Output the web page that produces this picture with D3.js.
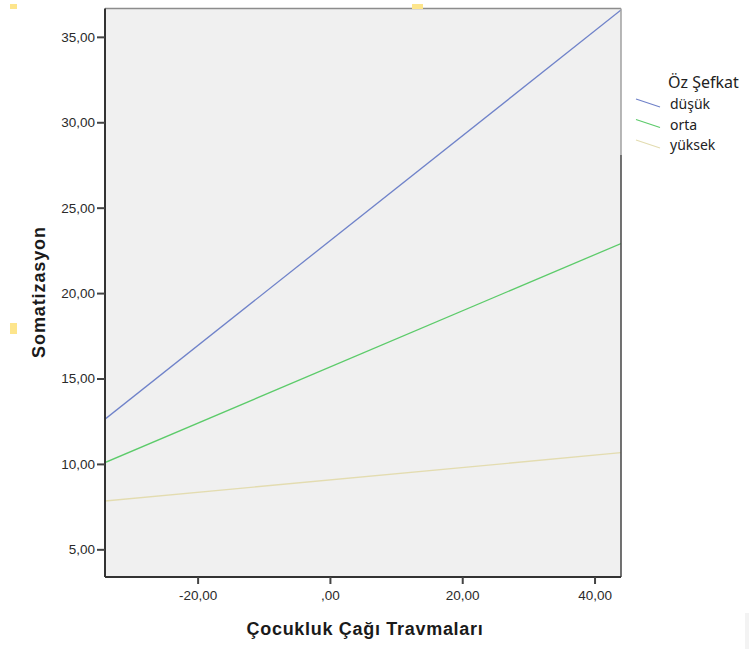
<!DOCTYPE html>
<html>
<head>
<meta charset="utf-8">
<script src="https://cdn.jsdelivr.net/npm/d3@7"></script>
<style>
  html, body { margin: 0; padding: 0; background: #ffffff; }
  svg { display: block; }
</style>
</head>
<body>
<svg id="chart" width="749" height="649"></svg>
<script>
// ---- data ----
const xEnds = [-34, 44];                       // range of Çocukluk Çağı Travmaları shown
const seriesNames = ["düşük", "orta", "yüksek"];
const dusukValues = [12.62, 36.57];
const ortaValues = [10.08, 22.9];
const yuksekValues = [7.83, 10.66];
const seriesColors = ["#6f82c9", "#5ccb6a", "#e3dcb0"];
const xTickValues = [-20, 0, 20, 40];
const xTickLabels = ["-20,00", ",00", "20,00", "40,00"];
const yTickValues = [5, 10, 15, 20, 25, 30, 35];
const yTickLabels = ["5,00", "10,00", "15,00", "20,00", "25,00", "30,00", "35,00"];
const xDomain = [-34, 44];
const yDomain = [3.38, 36.66];

const seriesValues = [dusukValues, ortaValues, yuksekValues];

const svg = d3.select("#chart");
const L = 105, R = 621, T = 8.5, B = 577;

const x = d3.scaleLinear().domain(xDomain).range([L, R]);
const y = d3.scaleLinear().domain(yDomain).range([B, T]);

// plot background
svg.append("rect").attr("x", L).attr("y", T).attr("width", R - L).attr("height", B - T)
  .attr("fill", "#f0f0f0");

svg.append("clipPath").attr("id", "clip").append("rect")
  .attr("x", L).attr("y", T).attr("width", R - L).attr("height", B - T);

// lines
const line = d3.line().x(d => x(d[0])).y(d => y(d[1]));
seriesValues.forEach((vals, i) => {
  svg.append("path")
    .datum(xEnds.map((xv, j) => [xv, vals[j]]))
    .attr("d", line)
    .attr("fill", "none")
    .attr("stroke", seriesColors[i])
    .attr("stroke-width", 1.3)
    .attr("clip-path", "url(#clip)");
});

// frame
svg.append("line").attr("x1", L).attr("x2", R).attr("y1", T).attr("y2", T)
  .attr("stroke", "#8c8c8c").attr("stroke-width", 1.5);
svg.append("line").attr("x1", R).attr("x2", R).attr("y1", T).attr("y2", 155)
  .attr("stroke", "#a0a0a0").attr("stroke-width", 1.5);
svg.append("line").attr("x1", R).attr("x2", R).attr("y1", 155).attr("y2", B)
  .attr("stroke", "#444").attr("stroke-width", 1.5);

// axes
const xAxis = d3.axisBottom(x).tickValues(xTickValues)
  .tickFormat((d, i) => xTickLabels[i]).tickSize(7).tickPadding(6).tickSizeOuter(0);
const yAxis = d3.axisLeft(y).tickValues(yTickValues)
  .tickFormat((d, i) => yTickLabels[i]).tickSize(8).tickPadding(2).tickSizeOuter(0);

const gx = svg.append("g").attr("transform", `translate(0,${B})`).call(xAxis);
const gy = svg.append("g").attr("transform", `translate(${L},0)`).call(yAxis);
[gx, gy].forEach(g => {
  g.select(".domain").attr("stroke", "#333").attr("stroke-width", 2);
  g.selectAll(".tick line").attr("stroke", "#444").attr("stroke-width", 2);
  g.selectAll(".tick text").attr("fill", "#2a2a2a")
    .style("font-family", "'Liberation Sans', Arial, sans-serif").style("font-size", "13.5px");
});
gy.select(".domain").attr("d", `M0,${T}V${B}`);
gx.select(".domain").attr("d", `M${L},0H${R}`);

// axis titles
svg.append("text").attr("x", 365).attr("y", 635).attr("text-anchor", "middle")
  .style("font-family", "'Liberation Sans', Arial, sans-serif").style("font-size", "18px")
  .style("letter-spacing", "0.7px")
  .style("font-weight", "bold").attr("fill", "#1a1a1a").text("Çocukluk Çağı Travmaları");
svg.append("text").attr("transform", "translate(45,292) rotate(-90)").attr("text-anchor", "middle")
  .style("font-family", "'Liberation Sans', Arial, sans-serif").style("font-size", "18px")
  .style("letter-spacing", "0.9px")
  .style("font-weight", "bold").attr("fill", "#1a1a1a").text("Somatizasyon");

// legend
const lg = svg.append("g");
lg.append("text").attr("x", 668).attr("y", 88)
  .style("font-family", "'Noto Sans', 'Open Sans', sans-serif").style("font-size", "16px")
  .attr("fill", "#222").text("Öz Şefkat");
const legendY = [104, 124.5, 145];
seriesNames.forEach((name, i) => {
  lg.append("line").attr("x1", 636).attr("x2", 660)
    .attr("y1", legendY[i] - 5).attr("y2", legendY[i] + 3)
    .attr("stroke", seriesColors[i]).attr("stroke-width", 1.3);
  lg.append("text").attr("x", 670).attr("y", legendY[i] + 5)
    .style("font-family", "'Noto Sans', 'Open Sans', sans-serif").style("font-size", "14px")
    .attr("fill", "#222").text(name);
});

// small decorative marks from the source image
const marks = [[10, 4, 7, 5], [412, 4, 11, 5], [10, 323, 7, 11]];
marks.forEach(m => svg.append("rect").attr("x", m[0]).attr("y", m[1])
  .attr("width", m[2]).attr("height", m[3]).attr("fill", "#fde58c"));
svg.append("rect").attr("x", 745).attr("y", 613).attr("width", 4).attr("height", 36).attr("fill", "#f3f3f3");
</script>
</body>
</html>
